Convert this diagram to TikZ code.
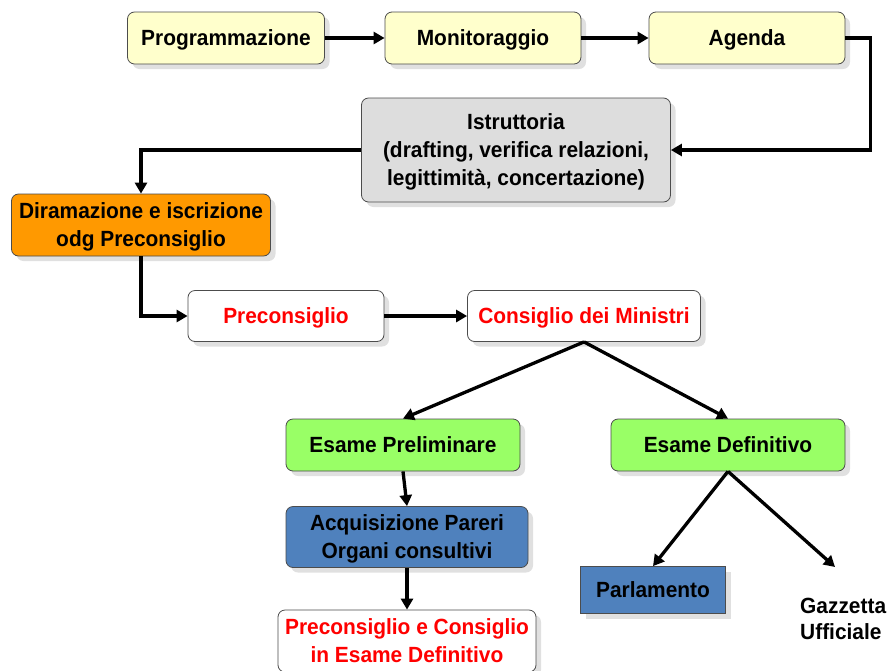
\documentclass[tikz,border=0pt]{standalone}
\usepackage{fontspec}
\setmainfont{Liberation Sans}
\newfontfamily\boxfont[FakeStretch=0.95]{Liberation Sans}
\usetikzlibrary{arrows.meta,shadows}
\definecolor{yel}{HTML}{FFFFCC}
\definecolor{gry}{HTML}{DDDDDD}
\definecolor{org}{HTML}{FF9900}
\definecolor{grn}{HTML}{99FF66}
\definecolor{blu}{HTML}{4F81BD}
\definecolor{rd}{HTML}{FF0000}
\begin{document}
\begin{tikzpicture}[x=1pt,y=-1pt,
  box/.style={draw=black!70, line width=0.8pt, rounded corners=7pt, align=center, inner sep=0pt,
    text depth=0pt,
    font=\boxfont\bfseries\fontsize{22}{28}\selectfont,
    drop shadow={shadow xshift=5pt, shadow yshift=-5pt, fill=black, opacity=0.12}},
  sqbox/.style={box, rounded corners=0pt},
  arr/.style={line width=3.3pt, -{Triangle[length=11pt,width=12pt]}},
  lbl/.style={align=left, inner sep=0pt, font=\boxfont\bfseries\fontsize{22}{26}\selectfont}
]
\useasboundingbox (0,0) rectangle (889,670);
\fill[white] (0,0) rectangle (889,670);

\node[box, fill=yel, minimum width=197pt, minimum height=52pt] (prog) at (226,38) {Programmazione};
\node[box, fill=yel, minimum width=196pt, minimum height=52pt] (mon) at (483,38) {Monitoraggio};
\node[box, fill=yel, minimum width=196pt, minimum height=52pt] (age) at (747,38) {Agenda};
\node[box, fill=gry, minimum width=309pt, minimum height=104pt] (ist) at (516,150) {Istruttoria\\(drafting, verifica relazioni,\\legittimità, concertazione)};
\node[box, fill=org, minimum width=259pt, minimum height=62pt] (dir) at (141,225) {Diramazione e iscrizione\\odg Preconsiglio};
\node[box, fill=white, text=rd, minimum width=196pt, minimum height=51pt] (pre) at (286,316) {Preconsiglio};
\node[box, fill=white, text=rd, minimum width=233pt, minimum height=51pt] (cdm) at (584,316) {Consiglio dei Ministri};
\node[box, fill=grn, minimum width=234pt, minimum height=52pt] (ep) at (403,445) {Esame Preliminare};
\node[box, fill=grn, minimum width=234pt, minimum height=52pt] (ed) at (728,445) {Esame Definitivo};
\node[box, fill=blu, minimum width=242pt, minimum height=61pt] (acq) at (407,537) {Acquisizione Pareri\\Organi consultivi};
\node[box, fill=white, text=rd, minimum width=258pt, minimum height=62pt] (pcc) at (407,641) {Preconsiglio e Consiglio\\in Esame Definitivo};
\node[sqbox, fill=blu, minimum width=145pt, minimum height=47pt] (parl) at (653,590) {Parlamento};
\node[lbl, anchor=west] (gaz) at (800,619) {Gazzetta\\Ufficiale};
\coordinate (gaztop) at (835,567);

\draw[arr] (prog) -- (mon);
\draw[arr] (mon) -- (age);
\draw[arr] (age.east) -- ++(25,0) |- (ist.east);
\draw[arr] (ist.west) -| (dir.north);
\draw[arr] (dir.south) |- (pre.west);
\draw[arr] (pre) -- (cdm);
\draw[arr] (cdm.south) -- (ep.north);
\draw[arr] (cdm.south) -- (ed.north);
\draw[arr] (ep.south) -- (acq.north);
\draw[arr] (acq.south) -- (pcc.north);
\draw[arr] (ed.south) -- (parl.north);
\draw[arr] (ed.south) -- (gaztop);
\end{tikzpicture}
\end{document}
